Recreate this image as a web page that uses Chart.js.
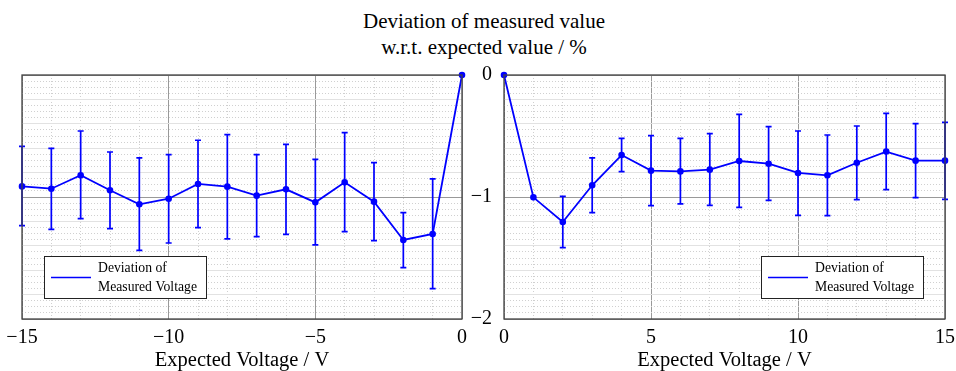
<!DOCTYPE html>
<html>
<head>
<meta charset="utf-8">
<script src="https://cdn.jsdelivr.net/npm/chart.js@4.4.1/dist/chart.umd.min.js"></script>
<style>
  body { margin: 0; background: #fff; }
  #wrap { position: relative; width: 956px; height: 371px; overflow: hidden; }
  #title { position: absolute; left: 0; top: 8px; width: 968px; text-align: center;
           font-family: "Liberation Serif", "Times New Roman", "DejaVu Serif", serif;
           font-size: 21px; line-height: 26px; color: #000; }
  canvas { position: absolute; top: 0; }
</style>
</head>
<body>
<div id="wrap">
  <div id="title">Deviation of measured value<br>w.r.t. expected value / %</div>
  <canvas id="left" width="480" height="371" style="left:0"></canvas>
  <canvas id="right" width="496" height="371" style="left:460px"></canvas>
</div>
<script>
// expected voltage (V)
const xLeft = [-15, -14, -13, -12, -11, -10, -9, -8, -7, -6, -5, -4, -3, -2, -1, 0];
const xRight = [0, 1, 2, 3, 4, 5, 6, 7, 8, 9, 10, 11, 12, 13, 14, 15];

// deviation (%) and error bar ends
const devLeft = [-0.913, -0.932, -0.822, -0.945, -1.06, -1.014, -0.893, -0.915, -0.989, -0.937, -1.044, -0.880, -1.038, -1.352, -1.303, 0];
const hiLeft  = [-0.585, -0.601, -0.459, -0.631, -0.68, -0.653, -0.535, -0.489, -0.653, -0.568, -0.691, -0.473, -0.719, -1.128, -0.852, null];
const loLeft  = [-1.235, -1.265, -1.178, -1.26, -1.437, -1.377, -1.251, -1.344, -1.325, -1.306, -1.393, -1.284, -1.358, -1.579, -1.751, null];

const devRight = [0, -1.003, -1.205, -0.904, -0.656, -0.784, -0.790, -0.776, -0.705, -0.727, -0.803, -0.822, -0.719, -0.628, -0.702, -0.702];
const hiRight  = [null, null, -0.995, -0.680, -0.519, -0.497, -0.519, -0.481, -0.322, -0.423, -0.459, -0.492, -0.418, -0.314, -0.399, -0.388];
const loRight  = [null, null, -1.415, -1.128, -0.792, -1.071, -1.057, -1.068, -1.085, -1.027, -1.150, -1.153, -1.022, -0.940, -1.005, -1.019];

const yTicks = [0, -1, -2];
const seriesLabel = ['Deviation of', 'Measured Voltage'];

const BLUE = '#0000ff';
const FONT = '"Liberation Serif", "Times New Roman", "DejaVu Serif", serif';
const minus = v => String(v).replace('-', '\u2212');

// error bars drawn through the chart scales
const errorBars = {
  id: 'errorBars',
  afterDatasetsDraw(chart, args, opts) {
    const ctx = chart.ctx, xs = chart.scales.x, ys = chart.scales.y;
    ctx.save();
    ctx.strokeStyle = BLUE;
    ctx.lineWidth = 1.7;
    opts.lo.forEach((lo, i) => {
      const hi = opts.hi[i];
      if (lo == null || hi == null) return;
      const x = xs.getPixelForValue(opts.x[i]);
      const y1 = ys.getPixelForValue(hi), y2 = ys.getPixelForValue(lo);
      ctx.beginPath();
      ctx.moveTo(x, y1); ctx.lineTo(x, y2);
      ctx.moveTo(x - 3, y1); ctx.lineTo(x + 3, y1);
      ctx.moveTo(x - 3, y2); ctx.lineTo(x + 3, y2);
      ctx.stroke();
    });
    ctx.restore();
  }
};

// frame round the plot area and the boxed legend
const frameLegend = {
  id: 'frameLegend',
  afterDraw(chart, args, opts) {
    const ctx = chart.ctx, a = chart.chartArea;
    ctx.save();
    ctx.strokeStyle = '#444';
    ctx.lineWidth = 1.3;
    ctx.strokeRect(a.left, a.top, a.right - a.left, a.bottom - a.top);

    const w = 162, h = 42;
    const bx = opts.side === 'left' ? a.left + 22 : a.right - 22 - w;
    const by = a.bottom - 21 - h;
    ctx.fillStyle = '#fff';
    ctx.fillRect(bx, by, w, h);
    ctx.strokeStyle = '#222';
    ctx.lineWidth = 1;
    ctx.strokeRect(bx + 0.5, by + 0.5, w, h);
    ctx.strokeStyle = BLUE;
    ctx.lineWidth = 1.7;
    ctx.beginPath();
    ctx.moveTo(bx + 7, by + 21.5); ctx.lineTo(bx + 47, by + 21.5);
    ctx.stroke();
    ctx.fillStyle = '#000';
    ctx.font = '13.7px ' + FONT;
    ctx.textBaseline = 'middle';
    ctx.fillText(chart.data.datasets[0].label[0], bx + 54, by + 12);
    ctx.fillText(chart.data.datasets[0].label[1], bx + 54, by + 31);
    ctx.restore();
  }
};

function xGrid(v) {
  return v % 5 === 0 ? '#999' : '#d0d0d0';
}
function yGrid(v) {
  const k = Math.round(v * 20);
  if (k % 20 === 0) return '#999';
  if (k % 4 === 0) return '#e2e2e2';
  return '#d0d0d0';
}

function makeChart(id, xs, dev, hi, lo, side, xmin, xmax, padding, showY) {
  return new Chart(document.getElementById(id), {
    type: 'line',
    data: {
      datasets: [{
        label: seriesLabel,
        data: xs.map((x, i) => ({ x: x, y: dev[i] })),
        borderColor: BLUE,
        backgroundColor: BLUE,
        borderWidth: 1.8,
        pointRadius: 2.4,
        pointHoverRadius: 2.4,
        tension: 0,
        clip: false
      }]
    },
    options: {
      responsive: false,
      animation: false,
      devicePixelRatio: 1,
      layout: { padding: padding },
      plugins: {
        legend: { display: false },
        tooltip: { enabled: false },
        errorBars: { x: xs, hi: hi, lo: lo },
        frameLegend: { side: side }
      },
      scales: {
        x: {
          type: 'linear',
          min: xmin, max: xmax,
          afterFit: s => { s.height = 52; s.paddingLeft = 0; s.paddingRight = 0; },
          grid: { color: c => xGrid(c.tick.value), lineWidth: 1, drawTicks: false },
          border: { display: false, dash: c => (c.tick && c.tick.value % 5 !== 0) ? [1, 2] : [] },
          ticks: {
            stepSize: 1, autoSkip: false, maxRotation: 0, padding: 7,
            color: '#000', font: { family: FONT, size: 20 },
            callback: v => v % 5 === 0 ? minus(v) : ''
          },
          title: {
            display: true, text: 'Expected Voltage / V', color: '#000',
            font: { family: FONT, size: 20.5, lineHeight: 1 }, padding: { top: 0, bottom: 0 }
          }
        },
        y: {
          min: -2, max: 0,
          afterFit: s => { s.width = showY ? 44 : 0; s.paddingTop = 0; s.paddingBottom = 0; },
          grid: { color: c => yGrid(c.tick.value), lineWidth: 1, drawTicks: false },
          border: { display: false, dash: c => (c.tick && Math.round(c.tick.value * 20) % 4 !== 0) ? [1, 2] : [] },
          ticks: {
            display: showY, stepSize: 0.05, autoSkip: false, padding: 12,
            color: '#000', font: { family: FONT, size: 20 },
            callback: v => yTicks.includes(Math.round(v * 20) / 20) && Math.abs(v - Math.round(v)) < 1e-6 ? minus(Math.round(v)) : ''
          }
        }
      }
    },
    plugins: [errorBars, frameLegend]
  });
}

makeChart('left', xLeft, devLeft, hiLeft, loLeft, 'left', -15, 0, { left: 22, right: 18, top: 75, bottom: 0 }, false);
makeChart('right', xRight, devRight, hiRight, loRight, 'right', 0, 15, { left: 0, right: 11, top: 75, bottom: 0 }, true);
</script>
</body>
</html>
